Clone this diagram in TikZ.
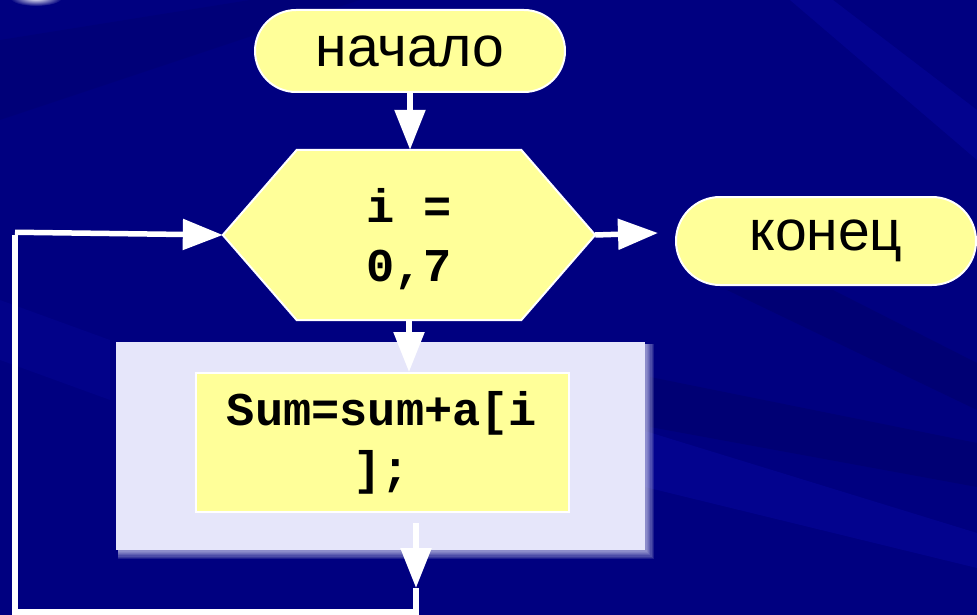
\documentclass[tikz,border=0pt]{standalone}
\usepackage{fontspec}
\setmainfont{Liberation Sans}
\newfontfamily\codefont{Liberation Mono}
\usetikzlibrary{arrows.meta,calc,shapes.misc}

\definecolor{bgnavy}{RGB}{0,0,128}
\definecolor{bandlight}{RGB}{8,8,165}
\definecolor{banddark}{RGB}{0,0,100}
\definecolor{boxyellow}{RGB}{255,255,153}
\definecolor{panelc}{RGB}{230,230,250}

\tikzset{
  terminal/.style={rounded rectangle, draw=white, line width=2pt, fill=boxyellow,
    minimum width=310pt, minimum height=82pt, inner sep=0pt,
    font=\fontsize{57}{60}\selectfont},
  hexbox/.style={rectangle, minimum width=372pt, minimum height=170pt, inner sep=0pt},
  hexfill/.style={draw=white, line width=2pt, fill=boxyellow, line join=miter},
  codetext/.style={align=center, inner sep=0pt,
    font=\codefont\bfseries\fontsize{47}{59}\selectfont},
  procbox/.style={rectangle, draw=white, line width=2pt, fill=boxyellow,
    minimum width=373pt, minimum height=139pt, inner sep=0pt, codetext},
  panel/.style={rectangle, fill=panelc, minimum width=529pt, minimum height=208pt, inner sep=0pt},
  glow/.style={fill=panelc, opacity=0.13},
  flow/.style={white, line width=5.5pt, -{Triangle[length=40pt,width=30pt]}},
  plain/.style={white, line width=5.5pt, line join=miter},
  band/.style={fill=#1, opacity=0.4}
}

\begin{document}
\begin{tikzpicture}[x=1pt, y=-1pt]
  \useasboundingbox (0,0) rectangle (977,615);

  % background with faint diagonal bands
  \fill[bgnavy] (0,0) rectangle (977,615);
  \fill[band=bandlight] (790,0) -- (833,0) -- (977,110) -- (977,160) -- cycle;
  \fill[band=banddark, opacity=0.25] (0,40) -- (0,120) -- (360,0) -- (250,0) -- cycle;
  \fill[band=banddark] (727,290) -- (833,290) -- (977,363) -- (977,410) -- cycle;
  \fill[band=banddark] (650,377) -- (977,443) -- (977,487) -- (650,427) -- cycle;
  \fill[band=bandlight] (645,431) -- (977,533) -- (977,568) -- (645,487) -- cycle;
  \fill[band=bandlight, opacity=0.25] (0,300) -- (0,360) -- (110,400) -- (110,340) -- cycle;
  \shade[inner color=white, outer color=bgnavy] (36,-2) ellipse [x radius=26pt, y radius=8pt];

  % loop body panel with its soft edge
  \node[panel] (group) at (380.5,446) {};
  \foreach \k in {1,...,7}
    \fill[glow] ([xshift=2pt, yshift=-2pt]group.north west)
      rectangle ([xshift=1.3*\k pt, yshift=-1.3*\k pt]group.south east);
  \node[panel] (groupface) at (group) {};

  % blocks
  \node[terminal] (start) at (410,51) {\raisebox{-3pt}{начало}};
  \node[terminal, minimum width=300pt, minimum height=88pt] (stop) at (826,241) {конец};

  \node[hexbox] (loop) at (409,235) {};
  \filldraw[hexfill] (loop.west) -- ([xshift=74pt]loop.north west)
    -- ([xshift=-74pt]loop.north east) -- (loop.east)
    -- ([xshift=-74pt]loop.south east) -- ([xshift=74pt]loop.south west) -- cycle;
  \node[codetext] (looptext) at ([yshift=-4pt]loop.center) {i =\\0,7};

  \node[procbox] (body) at (382,442.5) {Sum=sum+a[i\\];};

  % connectors
  \coordinate (exit) at (658,233);
  \coordinate (outtop) at (416,523);
  \coordinate (outtip) at (416,588);
  \coordinate (bottomright) at (416,612);
  \coordinate (bottomleft) at (15,612);

  \draw[flow] (start.south) -- (start.south |- loop.north);
  \draw[flow] (loop.south) -- (loop.south |- body.north);
  \draw[flow] (loop.east) -- (exit);
  \draw[flow] (outtop) -- (outtip);
  \draw[plain] (outtip) -- (bottomright) -- (bottomleft) -- (bottomleft |- loop.west);
  \draw[flow] ([yshift=2.75pt]bottomleft |- loop.west) -- (loop.west);
\end{tikzpicture}
\end{document}
